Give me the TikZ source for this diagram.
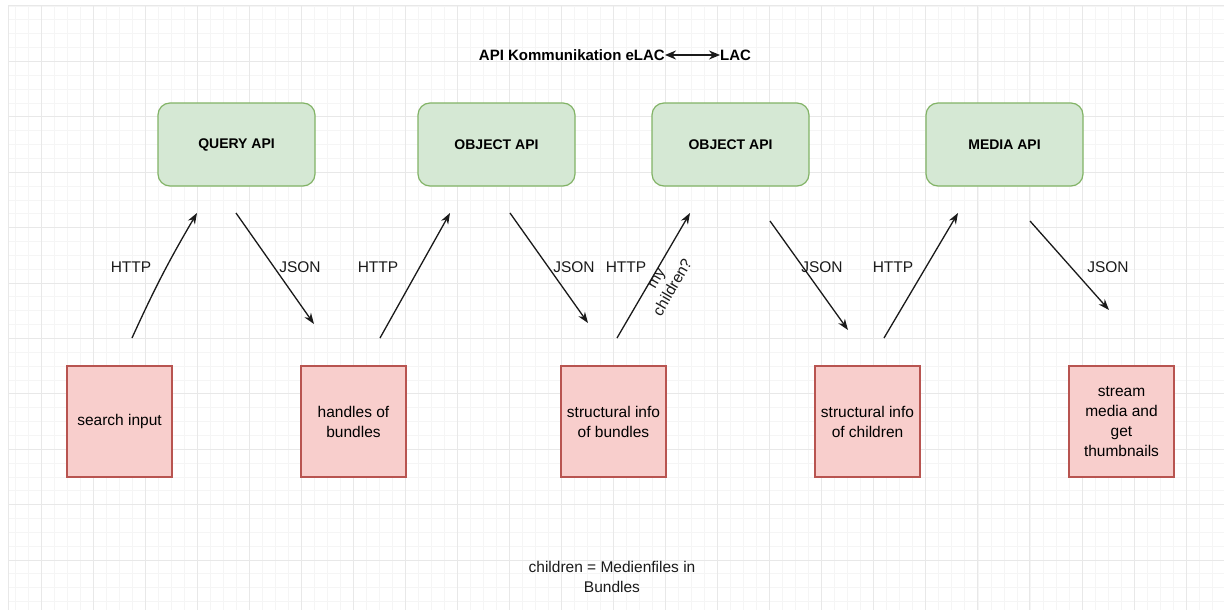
\documentclass[tikz,border=0pt]{standalone}
\usepackage{fontspec}
\setmainfont{Liberation Sans}
\usetikzlibrary{arrows.meta, positioning}
\definecolor{apifill}{HTML}{D5E8D4}
\definecolor{apiline}{HTML}{82B366}
\definecolor{datafill}{HTML}{F8CECC}
\definecolor{dataline}{HTML}{B85450}
\definecolor{gridmajor}{HTML}{E8E8E8}
\definecolor{gridminor}{HTML}{F5F5F5}
\definecolor{inkcolor}{HTML}{1A1A1A}

\tikzset{
  apibox/.style={draw=apiline, fill=apifill, line width=1.2pt, rounded corners=12pt,
    minimum width=157pt, minimum height=83pt, font=\fontsize{14}{16}\selectfont\bfseries},
  databox/.style={draw=dataline, fill=datafill, line width=1.2pt, align=center,
    minimum width=105pt, minimum height=111pt, font=\fontsize{15.5}{20}\selectfont},
  msg/.style={font=\fontsize{15.5}{18}\selectfont, text=inkcolor},
  flow/.style={-{Stealth[length=11pt,width=8pt]}, line width=1.3pt, draw=inkcolor},
}

\begin{document}
\begin{tikzpicture}[x=1pt, y=-1pt]
    \useasboundingbox (0,0) rectangle (1224,610);
    \fill[white] (0,0) rectangle (1224,610);

    % Grid
    \foreach \i in {-2,...,91} {
        \draw[gridminor, line width=0.8pt] ({41+13.0125*\i},6) -- ({41+13.0125*\i},610);
    }
    \foreach \j in {0,...,43} {
        \draw[gridminor, line width=0.8pt] (8,{6+13.85*\j}) -- (1224,{6+13.85*\j});
    }
    \foreach \i in {0,...,22} {
        \draw[gridmajor, line width=1pt] ({41+52.05*\i},6) -- ({41+52.05*\i},610);
    }
    \foreach \j in {0,...,10} {
        \draw[gridmajor, line width=1pt] (8,{6+55.4*\j}) -- (1224,{6+55.4*\j});
    }
    \draw[gridmajor, line width=1pt] (8,6) -- (8,610);

    % Title
    \node[anchor=east, inner sep=0pt, font=\fontsize{15}{18}\selectfont\bfseries] (title) at (665,55) {API Kommunikation eLAC};
    \node[anchor=west, inner sep=0pt, font=\fontsize{15}{18}\selectfont\bfseries] (lac) at (720,55) {LAC};
    \draw[{Stealth[length=11pt,width=9pt]}-{Stealth[length=11pt,width=9pt]}, line width=1.5pt, draw=inkcolor] (title.east) -- (lac.west);

    % APIs
    \node[apibox] (query) at (236.5,144.5) {QUERY API};
    \node[apibox] (objecta) at (496.5,144.5) {OBJECT API};
    \node[apibox] (objectb) at (730.5,144.5) {OBJECT API};
    \node[apibox] (media) at (1004.5,144.5) {MEDIA API};

    % Data
    \node[databox] (search) at (119.5,421.5) {search input};
    \node[databox] (handles) at (353.5,421.5) {handles of\\bundles};
    \node[databox] (structb) at (613.5,421.5) {structural info\\of bundles};
    \node[databox] (structc) at (867.5,421.5) {structural info\\of children};
    \node[databox] (stream) at (1121.5,421.5) {stream\\media and\\get\\thumbnails};

    % Request / response ends
    \coordinate (h1s) at (132,338);  \coordinate (h1e) at (197,213);
    \coordinate (j1s) at (236,213);  \coordinate (j1e) at (314,324);
    \coordinate (h2s) at (380,338);  \coordinate (h2e) at (450,213);
    \coordinate (j2s) at (510,213);  \coordinate (j2e) at (588,323);
    \coordinate (h3s) at (617,338);  \coordinate (h3e) at (690,213);
    \coordinate (j3s) at (770,221);  \coordinate (j3e) at (848,330);
    \coordinate (h4s) at (884,338);  \coordinate (h4e) at (958,213);
    \coordinate (j4s) at (1030,221); \coordinate (j4e) at (1109,310);

    \draw[flow] (h1s) to[bend left=3] (h1e);
    \draw[flow] (j1s) -- (j1e);
    \draw[flow] (h2s) -- (h2e);
    \draw[flow] (j2s) -- (j2e);
    \draw[flow] (h3s) -- (h3e);
    \draw[flow] (j3s) -- (j3e);
    \draw[flow] (h4s) -- (h4e);
    \draw[flow] (j4s) -- (j4e);

    % Labels
    \node[msg] (http1) at (131,267) {HTTP};
    \node[msg] (json1) at (300,267) {JSON};
    \node[msg] (http2) at (378,267) {HTTP};
    \node[msg] (json2) at (574,267) {JSON};
    \node[msg] (http3) at (626,267) {HTTP};
    \node[msg, rotate=60, align=center, font=\fontsize{15.5}{19}\selectfont] (ask) at (665,283) {my\\children?};
    \node[msg] (json3) at (822,267) {JSON};
    \node[msg] (http4) at (893,267) {HTTP};
    \node[msg] (json4) at (1108,267) {JSON};

    % Note
    \node[msg, align=center, font=\fontsize{15.5}{20}\selectfont] (note) at (612,577) {children = Medienfiles in\\Bundles};
\end{tikzpicture}
\end{document}
